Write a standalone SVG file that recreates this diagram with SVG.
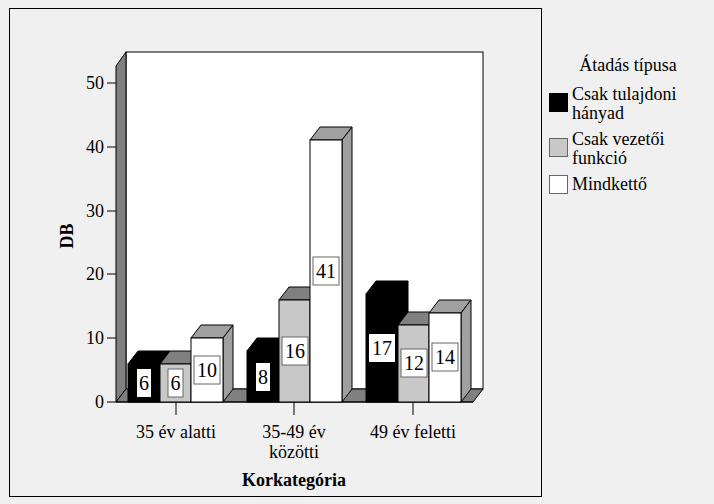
<svg xmlns="http://www.w3.org/2000/svg" width="714" height="504" viewBox="0 0 714 504">
<style>
text{font-family:"Liberation Serif","Times New Roman","DejaVu Serif",serif;font-size:18px;fill:#000}
.e{stroke:#000;stroke-width:1}
.lb{fill:#fff;stroke:#666;stroke-width:1}
.lk{fill:#fff;stroke:none}
.v{font-size:20px}
</style>
<rect width="714" height="504" fill="#f0f0f0"/>
<rect x="9.5" y="8.5" width="532" height="488" fill="none" stroke="#000"/>
<g id="frame">
<rect x="126" y="52" width="357" height="337" fill="#fff" class="e"/>
<polygon points="116,66 126,52 126,389 116,402" fill="#808080" class="e"/>
<polygon points="116,402 126,389 483,389 473,402" fill="#808080" class="e"/>
<line x1="107" y1="402" x2="116" y2="402" class="e"/>
<line x1="107" y1="338" x2="116" y2="338" class="e"/>
<line x1="107" y1="274" x2="116" y2="274" class="e"/>
<line x1="107" y1="211" x2="116" y2="211" class="e"/>
<line x1="107" y1="147" x2="116" y2="147" class="e"/>
<line x1="107" y1="83" x2="116" y2="83" class="e"/>
<line x1="116" y1="402" x2="473" y2="402" class="e"/>
<line x1="176" y1="402" x2="176" y2="415" class="e"/>
<line x1="294" y1="402" x2="294" y2="415" class="e"/>
<line x1="413" y1="402" x2="413" y2="415" class="e"/>
<g text-anchor="end">
<text x="104" y="408">0</text><text x="104" y="344">10</text><text x="104" y="280">20</text>
<text x="104" y="217">30</text><text x="104" y="153">40</text><text x="104" y="89">50</text>
</g>
<text transform="translate(73,236) rotate(-90)" text-anchor="middle" font-weight="bold">DB</text>
<g text-anchor="middle">
<text x="176" y="438">35 év alatti</text>
<text x="294" y="438">35-49 év</text>
<text x="294" y="458">közötti</text>
<text x="413" y="438">49 év feletti</text>
<text x="294" y="486" font-weight="bold">Korkategória</text>
</g>
</g>
<g id="bars" class="e">
<g id="b1"><polygon points="128,364 138,351 170,351 160,364" fill="#000"/><polygon points="160,364 170,351 170,389 160,402" fill="#000"/><rect x="128" y="364" width="32" height="38" fill="#000"/></g>
<g id="b2"><polygon points="160,364 170,351 201,351 191,364" fill="#808080"/><polygon points="191,364 201,351 201,389 191,402" fill="#808080"/><rect x="160" y="364" width="31" height="38" fill="#c8c8c8"/></g>
<g id="b3"><polygon points="191,338 201,325 233,325 223,338" fill="#a0a0a0"/><polygon points="223,338 233,325 233,389 223,402" fill="#a0a0a0"/><rect x="191" y="338" width="32" height="64" fill="#fff"/></g>
<g id="b4"><polygon points="247,351 257,338 289,338 279,351" fill="#000"/><polygon points="279,351 289,338 289,389 279,402" fill="#000"/><rect x="247" y="351" width="32" height="51" fill="#000"/></g>
<g id="b5"><polygon points="279,300 289,287 320,287 310,300" fill="#808080"/><polygon points="310,300 320,287 320,389 310,402" fill="#808080"/><rect x="279" y="300" width="31" height="102" fill="#c8c8c8"/></g>
<g id="b6"><polygon points="310,140 320,127 352,127 342,140" fill="#a0a0a0"/><polygon points="342,140 352,127 352,389 342,402" fill="#a0a0a0"/><rect x="310" y="140" width="32" height="262" fill="#fff"/></g>
<g id="b7"><polygon points="366,294 376,281 408,281 398,294" fill="#000"/><polygon points="398,294 408,281 408,389 398,402" fill="#000"/><rect x="366" y="294" width="32" height="108" fill="#000"/></g>
<g id="b8"><polygon points="398,325 408,312 439,312 429,325" fill="#808080"/><polygon points="429,325 439,312 439,389 429,402" fill="#808080"/><rect x="398" y="325" width="31" height="77" fill="#c8c8c8"/></g>
<g id="b9"><polygon points="429,313 439,300 471,300 461,313" fill="#a0a0a0"/><polygon points="461,313 471,300 471,389 461,402" fill="#a0a0a0"/><rect x="429" y="313" width="32" height="89" fill="#fff"/></g>
</g>
<g id="labels" text-anchor="middle">
<rect x="137" y="369" width="14" height="28" class="lk"/><text class="v" x="144" y="390">6</text>
<rect x="168" y="369" width="15" height="28" class="lb"/><text class="v" x="175.5" y="390">6</text>
<rect x="194" y="356" width="26" height="28" class="lb"/><text class="v" x="207" y="377">10</text>
<rect x="256" y="363" width="14" height="28" class="lk"/><text class="v" x="263" y="384">8</text>
<rect x="282" y="337" width="26" height="28" class="lb"/><text class="v" x="295" y="358">16</text>
<rect x="313" y="257" width="26" height="28" class="lb"/><text class="v" x="326" y="278">41</text>
<rect x="369" y="334" width="26" height="28" class="lk"/><text class="v" x="382" y="355">17</text>
<rect x="401" y="349" width="26" height="28" class="lb"/><text class="v" x="414" y="370">12</text>
<rect x="432" y="343" width="26" height="28" class="lb"/><text class="v" x="445" y="364">14</text>
</g>
<g id="legend">
<text x="628" y="71" text-anchor="middle">Átadás típusa</text>
<rect x="549.5" y="93.5" width="18" height="18" fill="#000" stroke="#000"/>
<text x="572" y="100">Csak tulajdoni</text><text x="572" y="119">hányad</text>
<rect x="549.5" y="138.5" width="18" height="18" fill="#c8c8c8" stroke="#666"/>
<text x="572" y="145">Csak vezetői</text><text x="572" y="164">funkció</text>
<rect x="549.5" y="175.5" width="18" height="18" fill="#fff" stroke="#666"/>
<text x="572" y="190">Mindkettő</text>
</g>
</svg>
